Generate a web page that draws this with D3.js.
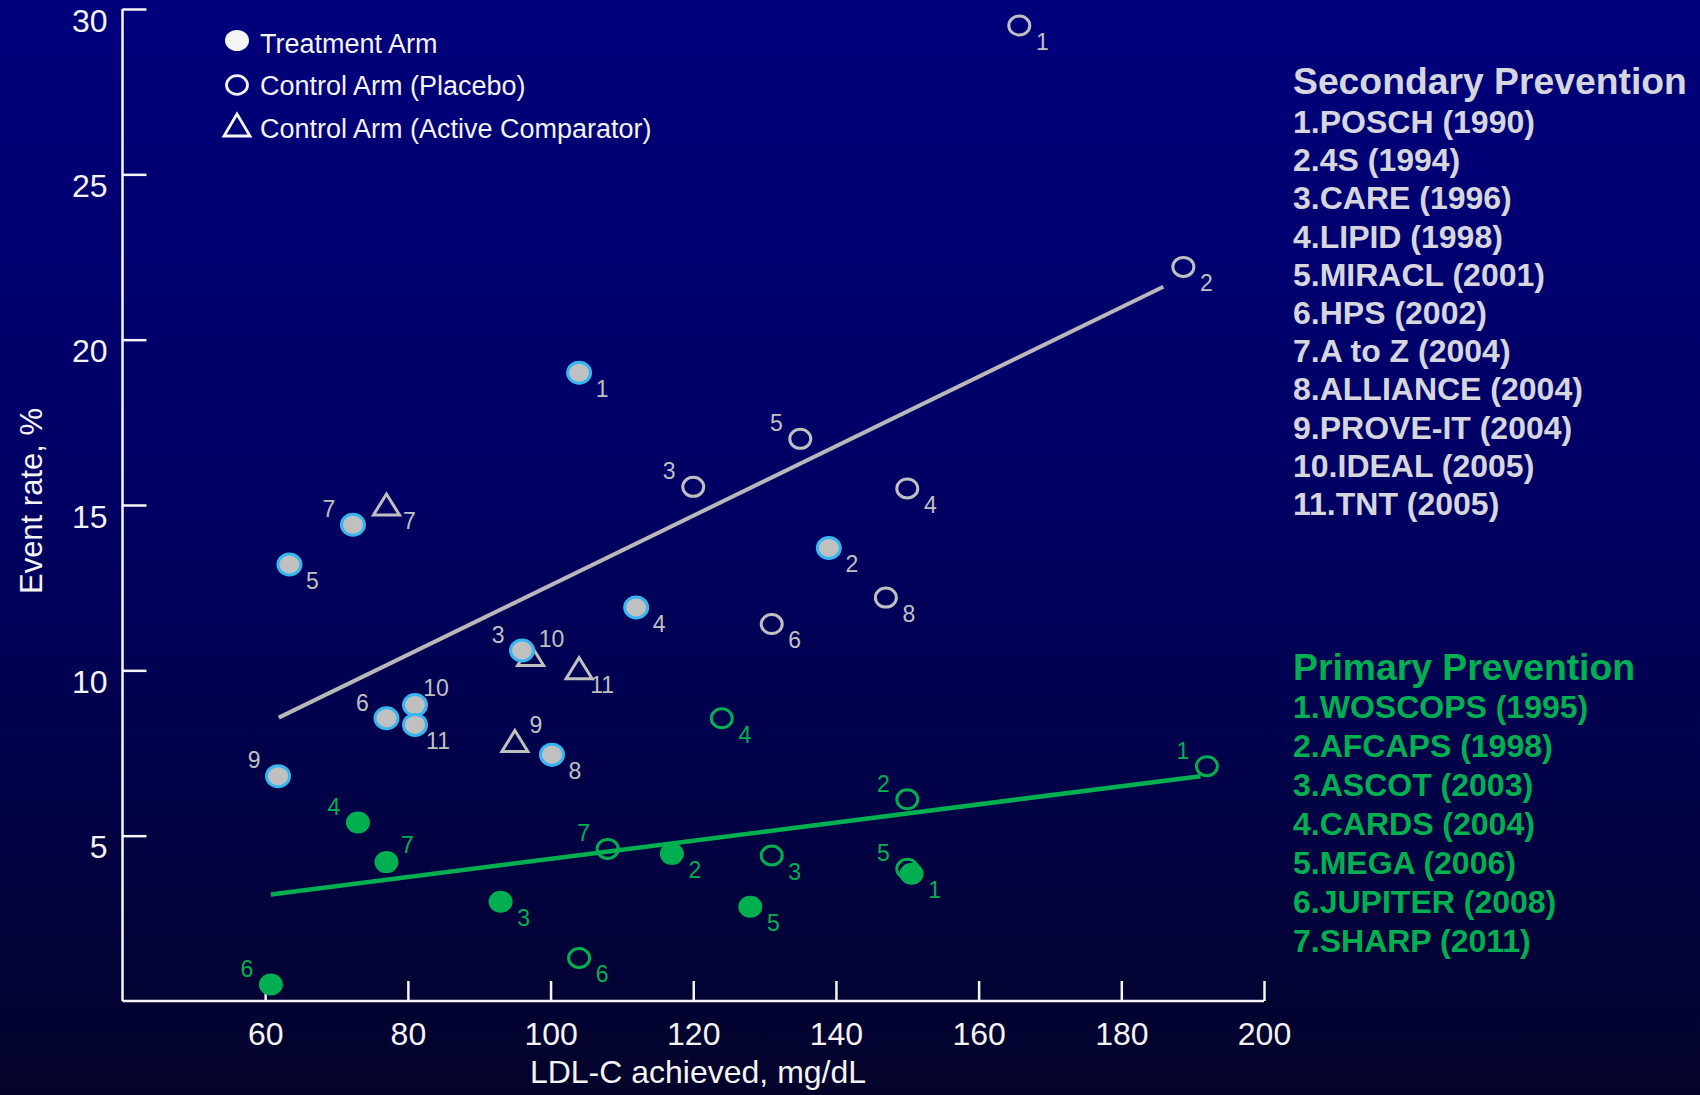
<!DOCTYPE html>
<html>
<head>
<meta charset="utf-8">
<script src="https://cdn.jsdelivr.net/npm/d3@7"></script>
<style>
html,body{margin:0;padding:0;background:#000050;}
svg{display:block;}
text{font-family:"Liberation Sans",Arial,Helvetica,sans-serif;}
</style>
</head>
<body>
<svg id="chart" width="1700" height="1095"></svg>
<script>
// ---------------- DATA ----------------
const xTicks = [60, 80, 100, 120, 140, 160, 180, 200];
const yTicks = [5, 10, 15, 20, 25, 30];

// Secondary prevention – treatment arm (filled)
const secTreatId = [1, 2, 3, 4, 5, 6, 7, 8, 9, 10, 11];
const secTreatX  = [104, 139, 96, 112, 63.4, 77, 72.3, 100.2, 61.8, 81, 81];
const secTreatY  = [19.0, 13.7, 10.6, 11.9, 13.2, 8.55, 14.4, 7.45, 6.8, 8.95, 8.35];
const secTreatLbl = ["lr","lr","ul","lr","lr","ul","ul","lr","ul","ur","lr"];

// Secondary prevention – control arm placebo (open circle)
const secPlacId = [1, 2, 3, 4, 5, 6, 8];
const secPlacX  = [165.7, 188.7, 120, 150, 135, 131, 147];
const secPlacY  = [29.5, 22.2, 15.55, 15.5, 17.0, 11.4, 12.2];
const secPlacLbl = ["lr","lr","ul","lr","ul","lr","lr"];

// Secondary prevention – control arm active comparator (triangle)
const secActId = [7, 9, 10, 11];
const secActX  = [77, 95, 97.2, 104];
const secActY  = [15.0, 7.85, 10.45, 10.05];
const secActLbl = ["lr","ur","ur","lr"];

// Primary prevention – treatment arm (filled)
const priTreatId = [1, 2, 3, 4, 5, 6, 7];
const priTreatX  = [150.6, 117, 93, 73, 128, 60.8, 77];
const priTreatY  = [3.85, 4.45, 3.0, 5.4, 2.85, 0.5, 4.2];
const priTreatLbl = ["lr","lr","lr","ul","lr","ul","ur"];

// Primary prevention – control arm (open circle)
const priCtrlId = [1, 2, 3, 4, 5, 6, 7];
const priCtrlX  = [192, 150, 131, 124, 150, 104, 108];
const priCtrlY  = [7.1, 6.1, 4.4, 8.55, 4.0, 1.3, 4.6];
const priCtrlLbl = ["ul","ul","lr","lr","ul","lr","ul"];

// Regression lines (endpoints)
const secLineX = [61.9, 185.9];
const secLineY = [8.57, 21.6];
const priLineX = [60.8, 191.1];
const priLineY = [3.22, 6.8];

// Legend / lists
const legendLabels = ["Treatment Arm", "Control Arm (Placebo)", "Control Arm (Active Comparator)"];
const secTitle = "Secondary Prevention";
const secTrials = ["1.POSCH (1990)","2.4S (1994)","3.CARE (1996)","4.LIPID (1998)","5.MIRACL (2001)",
  "6.HPS (2002)","7.A to Z (2004)","8.ALLIANCE (2004)","9.PROVE-IT (2004)","10.IDEAL (2005)","11.TNT (2005)"];
const priTitle = "Primary Prevention";
const priTrials = ["1.WOSCOPS (1995)","2.AFCAPS (1998)","3.ASCOT (2003)","4.CARDS (2004)",
  "5.MEGA (2006)","6.JUPITER (2008)","7.SHARP (2011)"];
const xTitle = "LDL-C achieved, mg/dL";
const yTitle = "Event rate, %";

// ---------------- STYLE ----------------
const GRAY = "#c0c0c0";
const BLUE = "#38b6f0";
const GREEN = "#00b050";
const WHITE = "#f4f4f4";

const svg = d3.select("#chart");
const defs = svg.append("defs");
const grad = defs.append("linearGradient").attr("id","bg").attr("x1",0).attr("y1",0).attr("x2",0).attr("y2",1);
grad.append("stop").attr("offset","0%").attr("stop-color","#00007c");
grad.append("stop").attr("offset","45%").attr("stop-color","#000064");
grad.append("stop").attr("offset","100%").attr("stop-color","#03032a");
svg.append("rect").attr("width",1700).attr("height",1095).attr("fill","url(#bg)");

const x = d3.scaleLinear().domain([40, 200]).range([122.5, 1264]);
const y = d3.scaleLinear().domain([0, 30]).range([1001, 9]);

// ---------------- AXES ----------------
const yAxis = svg.append("g").attr("transform", `translate(${x(40)},0)`)
  .call(d3.axisLeft(y).tickValues(yTicks).tickSizeInner(-24).tickSizeOuter(0).tickPadding(15));
const xAxis = svg.append("g").attr("transform", `translate(0,${y(0)})`)
  .call(d3.axisBottom(x).tickValues(xTicks).tickSizeInner(-20).tickSizeOuter(0).tickPadding(21));
[yAxis, xAxis].forEach(g => {
  g.select(".domain").attr("stroke", WHITE).attr("stroke-width", 2.5);
  g.selectAll(".tick line").attr("stroke", WHITE).attr("stroke-width", 2.5);
  g.selectAll(".tick text").attr("fill", WHITE).attr("font-size", 32)
    .attr("font-family", '"Liberation Sans",Arial,sans-serif');
});
// y labels hang below their tick
yAxis.selectAll(".tick text").attr("y", 12);
yAxis.select(".domain").attr("d", `M0,${y(30)}V${y(0)}`);
xAxis.select(".domain").attr("d", `M${x(40)},0H${x(200)}`);

svg.append("text").attr("transform", "translate(42,501) rotate(-90)")
  .attr("text-anchor","middle").attr("fill", WHITE).attr("font-size", 31).text(yTitle);
svg.append("text").attr("x", 698).attr("y", 1083)
  .attr("text-anchor","middle").attr("fill", WHITE).attr("font-size", 32).text(xTitle);

// ---------------- REGRESSION LINES ----------------
const line = d3.line().x(d => x(d[0])).y(d => y(d[1]));
svg.append("path").datum(d3.zip(secLineX, secLineY)).attr("d", line)
  .attr("stroke", "#b8b8b8").attr("stroke-width", 4).attr("fill","none");
svg.append("path").datum(d3.zip(priLineX, priLineY)).attr("d", line)
  .attr("stroke", GREEN).attr("stroke-width", 4.5).attr("fill","none");

// ---------------- MARKERS ----------------
const offsets = { lr: [23, 16], ul: [-24, -16], ur: [21, -17], ll: [-23, 16] };
function build(ids, xs, ys, lbl) {
  return ids.map((id, i) => ({ id, x: xs[i], y: ys[i], pos: lbl[i] }));
}

function drawSeries(data, kind, color) {
  const g = svg.append("g");
  const pts = g.selectAll("g").data(data).join("g")
    .attr("transform", d => `translate(${x(d.x)},${y(d.y)})`);
  if (kind === "filledSec") {
    pts.append("ellipse").attr("rx", 11.5).attr("ry", 10.5)
      .attr("fill", GRAY).attr("stroke", BLUE).attr("stroke-width", 3);
  } else if (kind === "filled") {
    pts.append("ellipse").attr("rx", 12).attr("ry", 11).attr("fill", color);
  } else if (kind === "open") {
    pts.append("ellipse").attr("rx", 10.5).attr("ry", 9.5)
      .attr("fill", "none").attr("stroke", color).attr("stroke-width", 3);
  } else if (kind === "tri") {
    pts.append("path").attr("d", "M0,-11L13,10L-13,10Z")
      .attr("fill", "none").attr("stroke", color).attr("stroke-width", 3).attr("stroke-linejoin","miter");
  }
  const lc = kind === "filledSec" ? GRAY : color;
  pts.append("text")
    .attr("x", d => offsets[d.pos][0]).attr("y", d => offsets[d.pos][1])
    .attr("dy", "0.36em").attr("text-anchor", "middle")
    .attr("fill", lc).attr("font-size", 23).text(d => d.id);
}

drawSeries(build(secPlacId, secPlacX, secPlacY, secPlacLbl), "open", GRAY);
drawSeries(build(secActId, secActX, secActY, secActLbl), "tri", GRAY);
drawSeries(build(secTreatId, secTreatX, secTreatY, secTreatLbl), "filledSec", GRAY);
drawSeries(build(priCtrlId, priCtrlX, priCtrlY, priCtrlLbl), "open", GREEN);
drawSeries(build(priTreatId, priTreatX, priTreatY, priTreatLbl), "filled", GREEN);

// ---------------- LEGEND ----------------
const lg = svg.append("g");
lg.append("ellipse").attr("cx", 237).attr("cy", 40.5).attr("rx", 12).attr("ry", 10.5).attr("fill", WHITE);
lg.append("ellipse").attr("cx", 237).attr("cy", 85).attr("rx", 10.5).attr("ry", 9.3)
  .attr("fill","none").attr("stroke", WHITE).attr("stroke-width", 2.8);
lg.append("path").attr("d", "M237,114L250,136L224,136Z")
  .attr("fill","none").attr("stroke", WHITE).attr("stroke-width", 2.8);
const legendBase = [53, 95, 138];
lg.selectAll("text.lt").data(legendLabels).join("text").attr("class","lt")
  .attr("x", 260).attr("y", (d, i) => legendBase[i])
  .attr("fill", WHITE).attr("font-size", 27).text(d => d);

// ---------------- TRIAL LISTS ----------------
svg.append("text").attr("x", 1293).attr("y", 94).attr("fill", "#d6d6de")
  .attr("font-size", 37.3).attr("font-weight", "bold").text(secTitle);
svg.selectAll("text.sec").data(secTrials).join("text").attr("class","sec")
  .attr("x", 1293).attr("y", (d, i) => 133 + i * 38.2)
  .attr("fill", "#d6d6de").attr("font-size", 32).attr("font-weight", "bold").text(d => d);

svg.append("text").attr("x", 1293).attr("y", 680).attr("fill", GREEN)
  .attr("font-size", 37.3).attr("font-weight", "bold").text(priTitle);
svg.selectAll("text.pri").data(priTrials).join("text").attr("class","pri")
  .attr("x", 1293).attr("y", (d, i) => 718 + i * 38.95)
  .attr("fill", GREEN).attr("font-size", 32).attr("font-weight", "bold").text(d => d);
</script>
</body>
</html>
